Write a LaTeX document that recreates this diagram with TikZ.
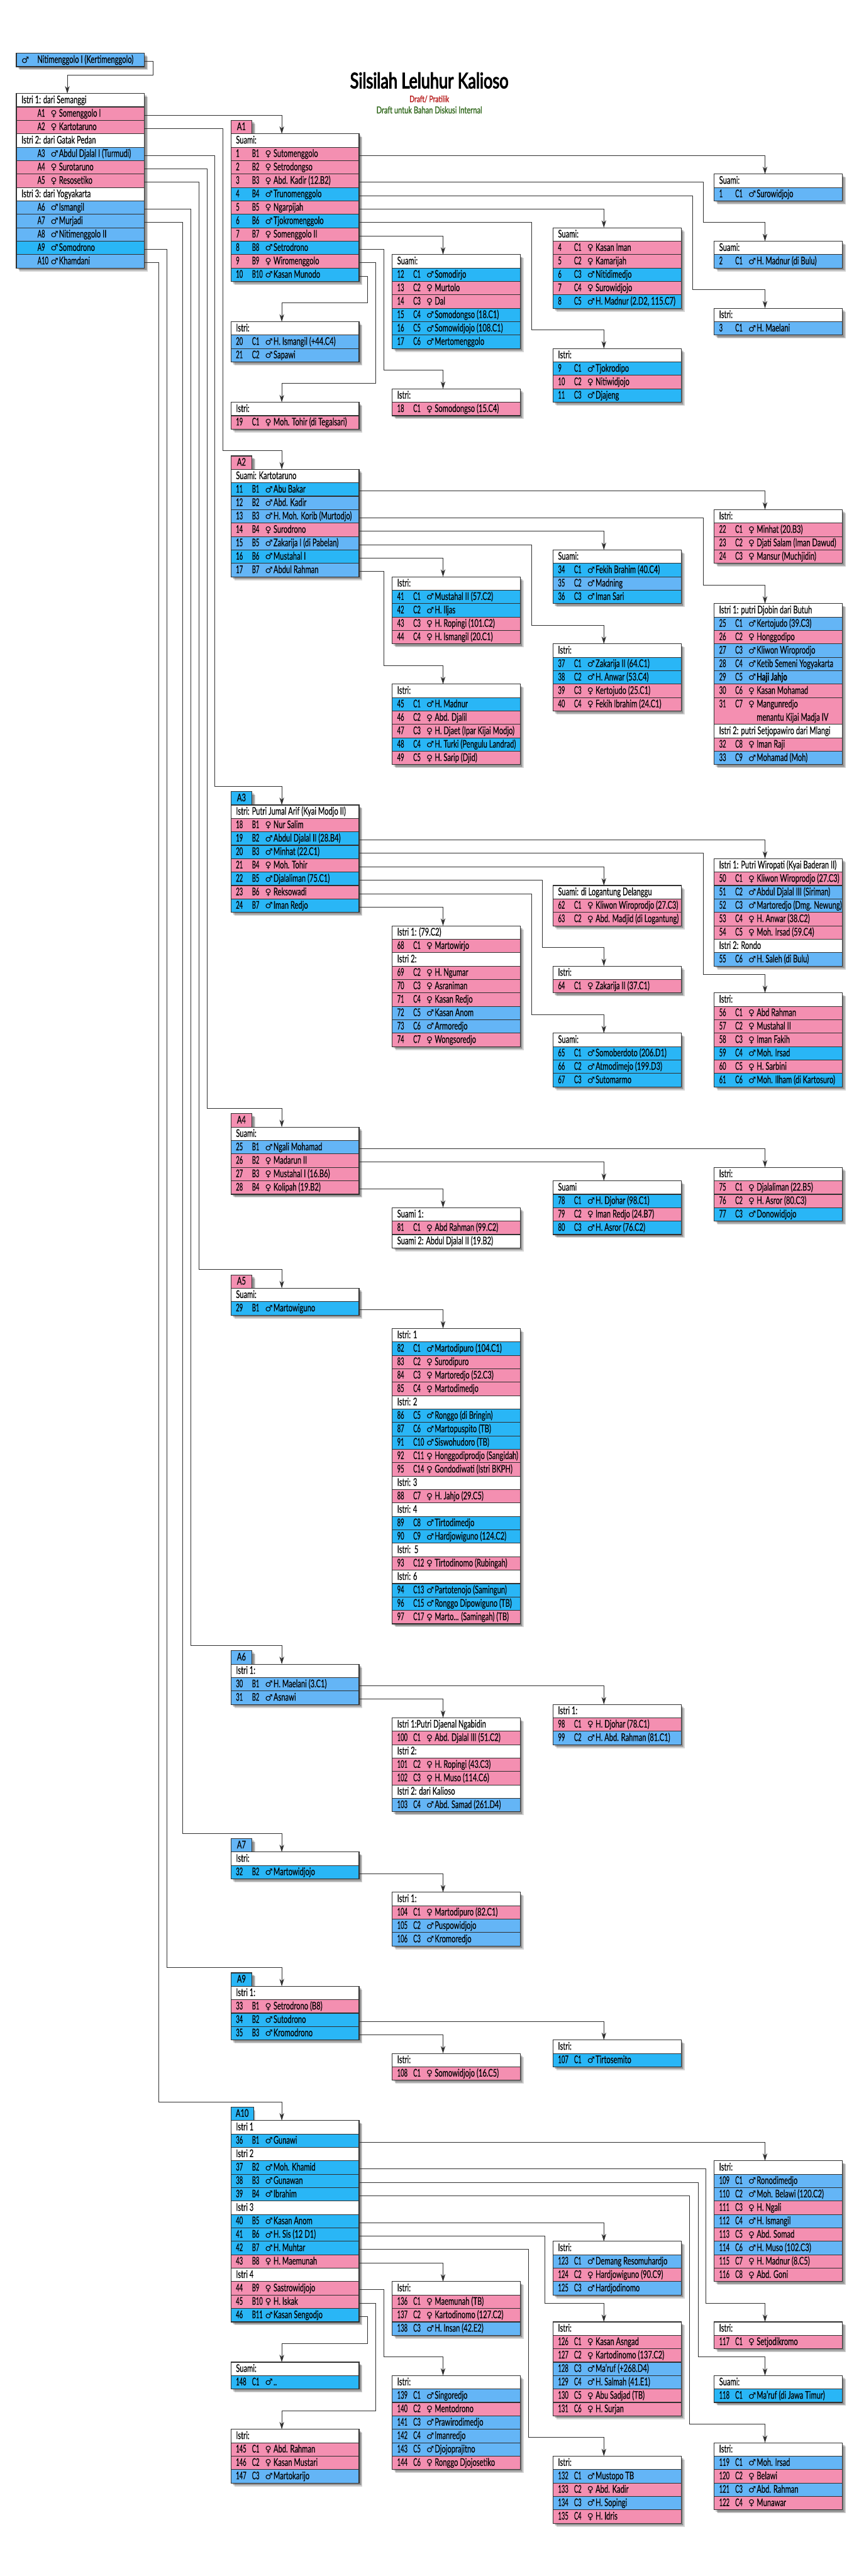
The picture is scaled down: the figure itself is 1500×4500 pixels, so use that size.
\documentclass[tikz,border=0pt]{standalone}
\usepackage{fontspec}
\setmainfont[FakeStretch=0.665,FakeBold=0.25]{Lato}
\newfontfamily\symfont{DejaVu Sans}
\newfontfamily\genfont[FakeStretch=0.56,FakeBold=0.25]{Lato}
\newfontfamily\titlefont[FakeStretch=0.74,FakeBold=3.2]{Lato}
\newfontfamily\draftfont[FakeStretch=0.74,FakeBold=1.4]{Lato}
\usetikzlibrary{arrows.meta}

\definecolor{rowpink}{HTML}{F48FB1}
\definecolor{rowblue}{HTML}{64B5F6}
\definecolor{rowcyan}{HTML}{29B6F6}
\definecolor{cellline}{HTML}{303030}
\definecolor{draftred}{HTML}{B71C1C}
\definecolor{draftgreen}{HTML}{33691E}

\tikzset{
    cell/.style={rectangle, draw=cellline, line width=1.2pt, anchor=north west, outer sep=0pt,
        inner xsep=8.5pt, inner ysep=0pt, minimum width=224pt, minimum height=23.45pt,
        text height=14pt, text depth=3.45pt, font=\fontsize{18.5}{20}\selectfont},
    hd cell/.style={cell, fill=white},
    pk cell/.style={cell, fill=rowpink},
    bl cell/.style={cell, fill=rowblue},
    cy cell/.style={cell, fill=rowcyan},
    pkt cell/.style={cell, fill=rowpink, minimum height=46.9pt, text depth=26.9pt},
    skip cell/.style={anchor=north west, inner sep=0pt},
    root cell/.style={cell, fill=rowblue},
    boxshade/.style={black, opacity=0.17},
    link/.style={draw=cellline, line width=1pt, -{Stealth[length=13pt,width=8pt,inset=4pt]}},
}

\newcommand{\female}{{\symfont\fontsize{15}{15}\selectfont ♀}}
\newcommand{\male}{{\symfont\fontsize{15}{15}\selectfont ♂}}
\newcommand{\below}[1]{\rlap{\raisebox{-23.45pt}{#1}}}

% What a row prints, by its kind
\newcommand{\fillhd}[3]{\makebox[206pt][l]{#3}}
\newcommand{\fillpk}[3]{\makebox[206pt][l]{\makebox[28pt][l]{\genfont #1}\makebox[23pt][l]{\genfont #2}\makebox[14.5pt][l]{\female}#3}}
\newcommand{\fillbl}[3]{\makebox[206pt][l]{\makebox[28pt][l]{\genfont #1}\makebox[23pt][l]{\genfont #2}\makebox[14.5pt][l]{\male}#3}}
\newcommand{\fillcy}[3]{\fillbl{#1}{#2}{#3}}
\newcommand{\fillpkt}[3]{\fillpk{#1}{#2}{#3}}
\newcommand{\fillskip}[3]{}
\newcommand{\fillroot}[3]{\makebox[206pt][l]{\makebox[27.5pt][l]{\male}#3}}

% name, x, first row, number of rows, rows
\newcommand{\familytable}[5]{
    \foreach \s in {6,4.5,3} {
        \fill[boxshade] ({#2+\s},{93+#3*23.45+\s}) rectangle ({#2+224+\s},{93+(#3+#4)*23.45+\s});
    }
    \foreach \kind/\num/\gen/\who [count=\i from 0] in {#5} {
        \node[\kind\space cell] (#1-\i) at (#2,{93+(#3+\i)*23.45}) {\csname fill\kind\endcsname{\num}{\gen}{\who}};
    }
    \coordinate (#1-in) at ({#2+89},{93+#3*23.45});
    \coordinate (#1-turn) at ({#2+89},{93+#3*23.45-32.6});
}

% name, row, kind, text
\newcommand{\familytag}[4]{
    \foreach \s in {6,4.5,3} {
        \fill[boxshade] ({403.3+\s},{93+#2*23.45+\s}) rectangle ({403.3+37+\s},{93+(#2+1)*23.45+\s});
    }
    \node[#3 cell, minimum width=37pt] (#1) at (403.3,{93+#2*23.45}) {#4};
}

\newcommand{\linkdown}[2]{\draw[link] ([yshift=-2.5pt]#1.east) -| (#2-in);}
\newcommand{\linkvia}[3]{
    \coordinate (via) at (#2,0);
    \draw[link] ([yshift=-2.5pt]#1.east) -| (#3-turn -| via) -| (#3-in);
}

\begin{document}
\begin{tikzpicture}[x=1pt,y=-1pt]
    \useasboundingbox (0,0) rectangle (1500,4500);

    % Title
    \node (title) at (750,140.5) {\titlefont\fontsize{37.5}{40}\selectfont Silsilah Leluhur Kalioso};
    \node[text=draftred] (draft) at (750,173) {\draftfont\fontsize{15.5}{17}\selectfont Draft/ Pratilik};
    \node[text=draftgreen] (note) at (750,192) {\draftfont\fontsize{16.5}{18}\selectfont Draft untuk Bahan Diskusi Internal};

    % Tags
    \familytag{tagA1}{5}{pk}{A1}
    \familytag{tagA2}{30}{pk}{A2}
    \familytag{tagA3}{55}{cy}{A3}
    \familytag{tagA4}{79}{pk}{A4}
    \familytag{tagA5}{91}{pk}{A5}
    \familytag{tagA6}{119}{bl}{A6}
    \familytag{tagA7}{133}{bl}{A7}
    \familytag{tagA9}{143}{cy}{A9}
    \familytag{tagA10}{153}{cy}{A10}

    % Generation A
    \familytable{root}{28.6}{0}{1}{root/{}/{}/{Nitimenggolo I (Kertimenggolo)}}
    \familytable{wives}{28.6}{3}{13}{hd/{}/{}/{Istri 1: dari Semanggi}, pk/{}/A1/{Somenggolo I}, pk/{}/A2/Kartotaruno,
        hd/{}/{}/{Istri 2: dari Gatak Pedan}, bl/{}/A3/{Abdul Djalal I (Turmudi)}, pk/{}/A4/Surotaruno, pk/{}/A5/Resosetiko,
        hd/{}/{}/{Istri 3: dari Yogyakarta}, bl/{}/A6/Ismangil, bl/{}/A7/Murjadi, bl/{}/A8/{Nitimenggolo II}, cy/{}/A9/Somodrono, bl/{}/A10/Khamdani}

    % Children of A1
    \familytable{a1}{403.3}{6}{11}{hd/{}/{}/Suami:, pk/1/B1/Sutomenggolo, pk/2/B2/Setrodongso, pk/3/B3/{Abd. Kadir (12.B2)}, cy/4/B4/Trunomenggolo,
        pk/5/B5/Ngarpijah, cy/6/B6/Tjokromenggolo, pk/7/B7/{Somenggolo II}, cy/8/B8/Setrodrono, pk/9/B9/Wiromenggolo, cy/10/B10/{Kasan Munodo}}
    \familytable{a1b1}{1247.5}{9}{2}{hd/{}/{}/Suami:, bl/1/C1/Surowidjojo}
    \familytable{a1b3}{1247.5}{14}{2}{hd/{}/{}/Suami:, bl/2/C1/{H. Madnur (di Bulu)}}
    \familytable{a1b4}{1247.5}{19}{2}{hd/{}/{}/Istri:, bl/3/C1/{H. Maelani}}
    \familytable{a1b5}{966}{13}{6}{hd/{}/{}/Suami:, pk/4/C1/{Kasan Iman}, pk/5/C2/Kamarijah, cy/6/C3/Nitidimedjo, pk/7/C4/Surowidjojo, cy/8/C5/{H. Madnur (2.D2, 115.C7)}}
    \familytable{a1b6}{966}{22}{4}{hd/{}/{}/Istri:, cy/9/C1/Tjokrodipo, pk/10/C2/Nitiwidjojo, cy/11/C3/Djajeng}
    \familytable{a1b7}{685}{15}{7}{hd/{}/{}/Suami:, cy/12/C1/Somodirjo, pk/13/C2/Murtolo, pk/14/C3/Dal, cy/15/C4/{Somodongso (18.C1)}, cy/16/C5/{Somowidjojo (108.C1)}, cy/17/C6/Mertomenggolo}
    \familytable{a1b8}{685}{25}{2}{hd/{}/{}/Istri:, pk/18/C1/{Somodongso (15.C4)}}
    \familytable{a1b9}{403.3}{26}{2}{hd/{}/{}/Istri:, pk/19/C1/{Moh. Tohir (di Tegalsari)}}
    \familytable{a1b10}{403.3}{20}{3}{hd/{}/{}/Istri:, bl/20/C1/{H. Ismangil (+44.C4)}, bl/21/C2/Sapawi}

    % Children of A2
    \familytable{a2}{403.3}{31}{8}{hd/{}/{}/{Suami: Kartotaruno}, cy/11/B1/{Abu Bakar}, bl/12/B2/{Abd. Kadir}, bl/13/B3/{H. Moh. Korib (Murtodjo)}, pk/14/B4/Surodrono,
        bl/15/B5/{Zakarija I (di Pabelan)}, cy/16/B6/{Mustahal I}, bl/17/B7/{Abdul Rahman}}
    \familytable{a2b1}{1247.5}{34}{4}{hd/{}/{}/Istri:, pk/22/C1/{Minhat (20.B3)}, pk/23/C2/{Djati Salam (Iman Dawud)}, pk/24/C3/{Mansur (Muchjidin)}}
    \familytable{a2b3}{1247.5}{41}{12}{hd/{}/{}/{Istri 1: putri Djobin dari Butuh}, bl/25/C1/{Kertojudo (39.C3)}, pk/26/C2/Honggodipo, bl/27/C3/{Kliwon Wiroprodjo},
        bl/28/C4/{Ketib Semeni Yogyakarta}, bl/29/C5/{\textbf{Haji Jahjo}}, pk/30/C6/{Kasan Mohamad}, pkt/31/C7/{\below{menantu Kijai Madja IV}Mangunredjo}, skip/{}/{}/{},
        hd/{}/{}/{Istri 2: putri Setjopawiro dari Mlangi}, pk/32/C8/{Iman Raji}, bl/33/C9/{Mohamad (Moh)}}
    \familytable{a2b4}{966}{37}{4}{hd/{}/{}/Suami:, cy/34/C1/{Fekih Brahim (40.C4)}, bl/35/C2/Madning, cy/36/C3/{Iman Sari}}
    \familytable{a2b5}{966}{44}{5}{hd/{}/{}/Istri:, cy/37/C1/{Zakarija II (64.C1)}, cy/38/C2/{H. Anwar (53.C4)}, pk/39/C3/{Kertojudo (25.C1)}, pk/40/C4/{Fekih Ibrahim (24.C1)}}
    \familytable{a2b6}{685}{39}{5}{hd/{}/{}/Istri:, cy/41/C1/{Mustahal II (57.C2)}, cy/42/C2/{H. Iljas}, pk/43/C3/{H. Ropingi (101.C2)}, pk/44/C4/{H. Ismangil (20.C1)}}
    \familytable{a2b7}{685}{47}{6}{hd/{}/{}/Istri:, cy/45/C1/{H. Madnur}, pk/46/C2/{Abd. Djalil}, pk/47/C3/{H. Djaet (Ipar Kijai Modjo)}, cy/48/C4/{H. Turki (Pengulu Landrad)}, pk/49/C5/{H. Sarip (Djid)}}

    % Children of A3
    \familytable{a3}{403.3}{56}{8}{hd/{}/{}/{Istri: Putri Jumal Arif (Kyai Modjo II)}, pk/18/B1/{Nur Salim}, cy/19/B2/{Abdul Djalal II (28.B4)}, cy/20/B3/{Minhat (22.C1)}, pk/21/B4/{Moh. Tohir},
        cy/22/B5/{Djalaliman (75.C1)}, pk/23/B6/Reksowadi, cy/24/B7/{Iman Redjo}}
    \familytable{a3b2}{1247.5}{60}{8}{hd/{}/{}/{Istri 1: Putri Wiropati (Kyai Baderan II)}, pk/50/C1/{Kliwon Wiroprodjo (27.C3)}, bl/51/C2/{Abdul Djalal III (Siriman)}, bl/52/C3/{Martoredjo (Dmg. Newung)},
        pk/53/C4/{H. Anwar (38.C2)}, pk/54/C5/{Moh. Irsad (59.C4)}, hd/{}/{}/{Istri 2: Rondo}, bl/55/C6/{H. Saleh (di Bulu)}}
    \familytable{a3b3}{1247.5}{70}{7}{hd/{}/{}/Istri:, pk/56/C1/{Abd Rahman}, pk/57/C2/{Mustahal II}, pk/58/C3/{Iman Fakih}, cy/59/C4/{Moh. Irsad}, pk/60/C5/{H. Sarbini}, cy/61/C6/{Moh. Ilham (di Kartosuro)}}
    \familytable{a3b4}{966}{62}{3}{hd/{}/{}/{Suami: di Logantung Delanggu}, pk/62/C1/{Kliwon Wiroprodjo (27.C3)}, pk/63/C2/{Abd. Madjid (di Logantung)}}
    \familytable{a3b5}{966}{68}{2}{hd/{}/{}/Istri:, pk/64/C1/{Zakarija II (37.C1)}}
    \familytable{a3b6}{966}{73}{4}{hd/{}/{}/Suami:, cy/65/C1/{Somoberdoto (206.D1)}, cy/66/C2/{Atmodimejo (199.D3)}, cy/67/C3/Sutomarmo}
    \familytable{a3b7}{685}{65}{9}{hd/{}/{}/{Istri 1: (79.C2)}, pk/68/C1/Martowirjo, hd/{}/{}/{Istri 2:}, pk/69/C2/{H. Ngumar}, pk/70/C3/Asraniman, pk/71/C4/{Kasan Redjo},
        bl/72/C5/{Kasan Anom}, bl/73/C6/Armoredjo, pk/74/C7/Wongsoredjo}

    % Children of A4
    \familytable{a4}{403.3}{80}{5}{hd/{}/{}/Suami:, bl/25/B1/{Ngali Mohamad}, pk/26/B2/{Madarun II}, pk/27/B3/{Mustahal I (16.B6)}, pk/28/B4/{Kolipah (19.B2)}}
    \familytable{a4b1}{1247.5}{83}{4}{hd/{}/{}/Istri:, pk/75/C1/{Djalaliman (22.B5)}, pk/76/C2/{H. Asror (80.C3)}, cy/77/C3/Donowidjojo}
    \familytable{a4b2}{966}{84}{4}{hd/{}/{}/Suami, cy/78/C1/{H. Djohar (98.C1)}, pk/79/C2/{Iman Redjo (24.B7)}, cy/80/C3/{H. Asror (76.C2)}}
    \familytable{a4b4}{685}{86}{3}{hd/{}/{}/{Suami 1:}, pk/81/C1/{Abd Rahman (99.C2)}, hd/{}/{}/{Suami 2: Abdul Djalal II (19.B2)}}

    % Children of A5
    \familytable{a5}{403.3}{92}{2}{hd/{}/{}/Suami:, cy/29/B1/Martowiguno}
    \familytable{a5b1}{685}{95}{22}{hd/{}/{}/{Istri: 1}, cy/82/C1/{Martodipuro (104.C1)}, pk/83/C2/Surodipuro, pk/84/C3/{Martoredjo (52.C3)}, pk/85/C4/Martodimedjo,
        hd/{}/{}/{Istri: 2}, cy/86/C5/{Ronggo (di Bringin)}, cy/87/C6/{Martopuspito (TB)}, cy/91/C10/{Siswohudoro (TB)}, pk/92/C11/{Honggodiprodjo (Sangidah)}, pk/95/C14/{Gondodiwati (Istri BKPH)},
        hd/{}/{}/{Istri: 3}, pk/88/C7/{H. Jahjo (29.C5)}, hd/{}/{}/{Istri: 4}, cy/89/C8/Tirtodimedjo, cy/90/C9/{Hardjowiguno (124.C2)},
        hd/{}/{}/{Istri:\ \ 5}, pk/93/C12/{Tirtodinomo (Rubingah)}, hd/{}/{}/{Istri: 6}, cy/94/C13/{Partotenojo (Samingun)}, cy/96/C15/{Ronggo Dipowiguno (TB)}, pk/97/C17/{Marto{.}{.}{.} (Samingah) (TB)}}

    % Children of A6
    \familytable{a6}{403.3}{120}{3}{hd/{}/{}/{Istri 1:}, bl/30/B1/{H. Maelani (3.C1)}, bl/31/B2/Asnawi}
    \familytable{a6b1}{966}{123}{3}{hd/{}/{}/{Istri 1:}, pk/98/C1/{H. Djohar (78.C1)}, bl/99/C2/{H. Abd. Rahman (81.C1)}}
    \familytable{a6b2}{685}{124}{7}{hd/{}/{}/{Istri 1:Putri Djaenal Ngabidin}, pk/100/C1/{Abd. Djalal III (51.C2)}, hd/{}/{}/{Istri 2:}, pk/101/C2/{H. Ropingi (43.C3)}, pk/102/C3/{H. Muso (114.C6)},
        hd/{}/{}/{Istri 2: dari Kalioso}, bl/103/C4/{Abd. Samad (261.D4)}}

    % Children of A7
    \familytable{a7}{403.3}{134}{2}{hd/{}/{}/Istri:, cy/32/B2/Martowidjojo}
    \familytable{a7b1}{685}{137}{4}{hd/{}/{}/{Istri 1:}, pk/104/C1/{Martodipuro (82.C1)}, bl/105/C2/Puspowidjojo, bl/106/C3/Kromoredjo}

    % Children of A9
    \familytable{a9}{403.3}{144}{4}{hd/{}/{}/{Istri 1:}, pk/33/B1/{Setrodrono (B8)}, cy/34/B2/Sutodrono, cy/35/B3/Kromodrono}
    \familytable{a9b2}{966}{148}{2}{hd/{}/{}/Istri:, cy/107/C1/Tirtosemito}
    \familytable{a9b3}{685}{149}{2}{hd/{}/{}/Istri:, pk/108/C1/{Somowidjojo (16.C5)}}

    % Children of A10
    \familytable{a10}{403.3}{154}{15}{hd/{}/{}/{Istri 1}, cy/36/B1/Gunawi, hd/{}/{}/{Istri 2}, cy/37/B2/{Moh. Khamid}, cy/38/B3/Gunawan, cy/39/B4/Ibrahim,
        hd/{}/{}/{Istri 3}, cy/40/B5/{Kasan Anom}, cy/41/B6/{H. Sis (12 D1)}, cy/42/B7/{H. Muhtar}, pk/43/B8/{H. Maemunah},
        hd/{}/{}/{Istri 4}, pk/44/B9/Sastrowidjojo, pk/45/B10/{H. Iskak}, cy/46/B11/{Kasan Sengodjo}}
    \familytable{a10b1}{1247.5}{157}{9}{hd/{}/{}/Istri:, bl/109/C1/Ronodimedjo, bl/110/C2/{Moh. Belawi (120.C2)}, pk/111/C3/{H. Ngali}, bl/112/C4/{H. Ismangil}, pk/113/C5/{Abd. Somad},
        bl/114/C6/{H. Muso (102.C3)}, pk/115/C7/{H. Madnur (8.C5)}, pk/116/C8/{Abd. Goni}}
    \familytable{a10b2}{1247.5}{169}{2}{hd/{}/{}/Istri:, pk/117/C1/Setjodikromo}
    \familytable{a10b3}{1247.5}{173}{2}{hd/{}/{}/Suami:, cy/118/C1/{Ma'ruf (di Jawa Timur)}}
    \familytable{a10b4}{1247.5}{178}{5}{hd/{}/{}/Istri:, bl/119/C1/{Moh. Irsad}, pk/120/C2/Belawi, bl/121/C3/{Abd. Rahman}, pk/122/C4/Munawar}
    \familytable{a10b5}{966}{163}{4}{hd/{}/{}/Istri:, bl/123/C1/{Demang Resomuhardjo}, pk/124/C2/{Hardjowiguno (90.C9)}, bl/125/C3/Hardjodinomo}
    \familytable{a10b6}{966}{169}{7}{hd/{}/{}/Istri:, pk/126/C1/{Kasan Asngad}, pk/127/C2/{Kartodinomo (137.C2)}, bl/128/C3/{Ma'ruf (+268.D4)}, bl/129/C4/{H. Salmah (41.E1)}, pk/130/C5/{Abu Sadjad (TB)}, pk/131/C6/{H. Surjan}}
    \familytable{a10b7}{966}{179}{5}{hd/{}/{}/Istri:, bl/132/C1/{Mustopo TB}, pk/133/C2/{Abd. Kadir}, bl/134/C3/{H. Sopingi}, pk/135/C4/{H. Idris}}
    \familytable{a10b8}{685}{166}{4}{hd/{}/{}/Istri:, pk/136/C1/{Maemunah (TB)}, pk/137/C2/{Kartodinomo (127.C2)}, bl/138/C3/{H. Insan (42.E2)}}
    \familytable{a10b9}{685}{173}{7}{hd/{}/{}/Istri:, bl/139/C1/Singoredjo, pk/140/C2/Mentodrono, bl/141/C3/Prawirodimedjo, bl/142/C4/Imanredjo, bl/143/C5/Djojoprajitno, pk/144/C6/{Ronggo Djojosetiko}}
    \familytable{a10b10}{403.3}{177}{4}{hd/{}/{}/Istri:, pk/145/C1/{Abd. Rahman}, pk/146/C2/{Kasan Mustari}, bl/147/C3/Martokarijo}
    \familytable{a10b11}{403.3}{172}{2}{hd/{}/{}/Suami:, cy/148/C1/{{.}{.}}}

    % Links of generation A
    \linkvia{root-0}{267.3}{wives}
    \linkdown{wives-1}{a1}
    \linkvia{wives-2}{389.3}{a2}
    \linkvia{wives-4}{375.5}{a3}
    \linkvia{wives-5}{361.7}{a4}
    \linkvia{wives-6}{347.5}{a5}
    \linkvia{wives-8}{333.7}{a6}
    \linkvia{wives-9}{319.4}{a7}
    \linkvia{wives-11}{291.3}{a9}
    \linkvia{wives-12}{277}{a10}

    % Links of A1
    \linkdown{a1-1}{a1b1}
    \linkvia{a1-3}{1228.6}{a1b3}
    \linkvia{a1-4}{1209.7}{a1b4}
    \linkdown{a1-5}{a1b5}
    \linkvia{a1-6}{928.6}{a1b6}
    \linkdown{a1-7}{a1b7}
    \linkvia{a1-8}{670.4}{a1b8}
    \linkvia{a1-9}{656.6}{a1b9}
    \linkvia{a1-10}{642.3}{a1b10}

    % Links of A2
    \linkdown{a2-1}{a2b1}
    \linkvia{a2-3}{1228.6}{a2b3}
    \linkdown{a2-4}{a2b4}
    \linkvia{a2-5}{928.6}{a2b5}
    \linkdown{a2-6}{a2b6}
    \linkvia{a2-7}{670.7}{a2b7}

    % Links of A3
    \linkdown{a3-2}{a3b2}
    \linkvia{a3-3}{1228.6}{a3b3}
    \linkdown{a3-4}{a3b4}
    \linkvia{a3-5}{947.9}{a3b5}
    \linkvia{a3-6}{928.6}{a3b6}
    \linkdown{a3-7}{a3b7}

    % Links of A4 to A9
    \linkdown{a4-1}{a4b1}
    \linkdown{a4-2}{a4b2}
    \linkdown{a4-4}{a4b4}
    \linkdown{a5-1}{a5b1}
    \linkdown{a6-1}{a6b1}
    \linkdown{a6-2}{a6b2}
    \linkdown{a7-1}{a7b1}
    \linkdown{a9-2}{a9b2}
    \linkdown{a9-3}{a9b3}

    % Links of A10
    \linkdown{a10-1}{a10b1}
    \linkvia{a10-3}{1233.3}{a10b2}
    \linkvia{a10-4}{1219.6}{a10b3}
    \linkvia{a10-5}{1205}{a10b4}
    \linkdown{a10-7}{a10b5}
    \linkvia{a10-8}{952}{a10b6}
    \linkvia{a10-9}{923.7}{a10b7}
    \linkdown{a10-10}{a10b8}
    \linkvia{a10-12}{670.5}{a10b9}
    \linkvia{a10-13}{656.7}{a10b10}
    \linkvia{a10-14}{642.4}{a10b11}
\end{tikzpicture}
\end{document}
